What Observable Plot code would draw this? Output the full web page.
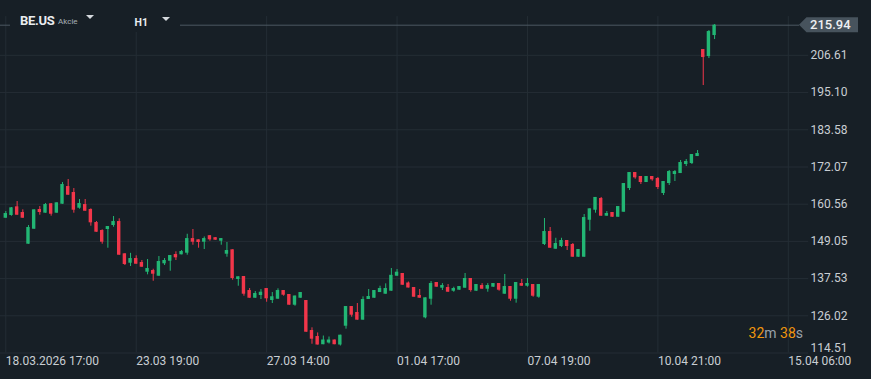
<!DOCTYPE html>
<html><head><meta charset="utf-8">
<script src="https://cdn.jsdelivr.net/npm/d3@7"></script>
<script src="https://cdn.jsdelivr.net/npm/@observablehq/plot@0.6"></script>
<style>
html,body{margin:0;padding:0;background:#171f26;overflow:hidden}
#wrap{position:relative;width:871px;height:379px;font-family:Roboto,sans-serif}
#hdr{position:absolute;left:10px;top:6px;width:170px;height:26px;background:#171f26}
.sym{position:absolute;left:10px;top:7px;font-weight:700;font-size:13px;color:#e9ecef;letter-spacing:-0.3px}
.typ{position:absolute;left:48px;top:11px;font-size:8px;color:#a7afb6}
.iv{position:absolute;left:124.5px;top:10px;font-weight:700;font-size:10.5px;color:#e9ecef}
.tri{position:absolute;width:0;height:0;border-left:4px solid transparent;border-right:4px solid transparent;border-top:4.5px solid #d5d9dd}
#cd{position:absolute;right:68px;top:325px;font-size:14px;color:#9aa2aa}
#cd .o{color:#f0960e}
</style></head><body><div id="wrap"></div>
<script>
const symbol = "BE.US", assetType = "Akcie", interval = "H1";
const opens = [156.21,157.05,159.74,157.98,148.17,152.81,158.91,157.77,160.67,157.77,160.55,166.02,164.17,159.31,160.45,158.91,154.88,152.41,152.72,153.96,155.19,145.20,142.29,143.74,142.51,139.51,140.03,138.27,142.11,142.91,144.98,144.89,145.39,149.92,149.53,148.79,150.81,150.19,149.10,145.08,146.44,137.25,138.18,133.84,131.46,132.30,134.46,130.75,131.15,133.84,132.61,129.30,131.46,130.75,121.47,119.61,117.07,117.60,118.53,116.98,122.80,128.89,127.04,124.67,131.06,131.46,133.22,132.70,133.63,138.27,139.11,136.17,134.77,132.30,125.39,131.15,136.32,134.56,134.77,133.63,133.94,134.56,137.56,133.63,135.39,134.25,134.87,136.01,132.70,135.08,131.15,136.01,135.17,135.70,131.77,148.08,152.10,146.62,147.46,149.32,148.08,144.15,144.15,155.59,158.69,162.31,156.84,157.98,156.52,158.07,165.40,170.35,169.12,167.26,169.12,168.50,163.86,166.95,169.73,170.04,172.83,173.14,175.30,208.41,206.24,212.74];
const highs = [158.29,159.52,161.38,158.81,153.96,158.81,159.83,160.76,160.76,160.98,167.26,168.19,165.40,162.00,162.00,159.12,155.19,152.62,153.65,156.74,156.03,145.20,145.35,144.58,143.13,143.44,140.43,144.36,143.74,144.67,145.82,146.22,151.25,152.72,149.53,150.42,150.81,150.19,149.92,148.70,146.44,138.09,138.18,134.46,133.53,134.15,134.46,133.22,134.37,133.84,132.61,132.14,133.22,130.75,122.30,120.72,119.76,119.46,118.53,120.02,128.89,128.89,129.82,131.89,134.15,133.84,135.17,135.91,140.65,140.34,139.11,136.48,134.77,134.15,131.58,136.63,136.32,135.98,135.70,134.87,135.08,139.11,137.56,135.70,135.98,135.98,136.01,136.01,138.80,135.08,136.32,137.25,137.56,135.70,135.70,156.12,153.34,150.01,150.01,149.32,148.39,146.53,157.36,159.12,162.64,162.64,158.29,157.98,159.83,166.95,170.35,170.35,169.12,169.12,169.12,168.81,167.57,170.97,170.97,174.07,174.38,175.92,177.16,208.41,214.29,216.14];
const lows = [156.21,156.84,157.14,156.21,148.17,152.81,157.14,157.77,156.84,157.77,160.55,163.33,157.77,159.00,158.38,153.75,151.88,148.17,146.93,153.43,144.77,141.58,141.27,141.98,141.05,138.70,136.72,138.27,141.58,139.82,143.13,144.89,144.77,147.86,146.93,146.53,149.10,149.41,147.86,144.15,137.04,135.17,132.08,131.46,131.46,131.06,130.22,129.82,131.15,132.08,129.30,128.99,131.46,120.94,117.22,116.98,117.07,117.29,117.07,116.67,121.88,125.58,124.67,124.67,131.06,131.46,133.22,132.70,133.63,138.27,135.48,134.62,131.77,131.46,125.08,129.30,134.87,133.84,133.32,133.32,133.94,134.56,133.32,133.63,134.25,133.32,134.87,133.63,132.70,130.53,129.92,135.17,134.87,131.77,131.46,147.77,146.93,146.62,147.15,146.22,144.15,144.15,144.15,152.19,157.77,156.84,156.84,156.52,156.52,158.07,164.78,168.28,166.64,167.26,167.66,165.09,163.24,166.33,167.57,170.04,172.21,172.83,175.30,197.27,205.62,211.50];
const closes = [157.67,159.43,157.14,156.21,153.34,158.81,157.98,160.45,157.45,160.98,166.64,163.33,158.69,160.76,158.38,154.79,151.88,148.79,153.65,155.19,144.77,141.89,143.74,141.98,141.05,140.65,138.89,142.82,143.13,144.67,143.96,145.91,149.92,148.79,148.70,149.92,149.53,149.41,149.92,146.22,137.56,138.09,132.70,131.46,132.92,133.32,131.28,131.91,133.84,132.39,129.30,132.14,133.22,120.94,118.78,116.98,118.53,118.53,117.07,120.02,128.89,126.20,124.67,131.06,131.99,133.84,134.46,134.46,138.55,139.51,135.48,134.62,131.77,131.46,131.58,136.01,134.87,135.39,133.32,134.46,135.08,137.56,133.84,135.70,134.25,135.39,136.01,133.94,135.08,131.15,136.32,135.17,136.01,132.08,135.70,152.10,146.93,148.39,149.32,147.46,144.15,146.53,156.43,159.12,162.64,156.84,157.67,156.52,159.83,166.95,170.35,168.71,167.26,169.12,168.10,165.71,167.57,170.66,170.66,173.45,173.76,175.92,176.23,205.93,213.98,215.94];
const xTickIdx = [0, 23, 46, 69, 92, 115, 138];
const xTickLabels = ["18.03.2026 17:00", "23.03 19:00", "27.03 14:00", "01.04 17:00", "07.04 19:00", "10.04 21:00", "15.04 06:00"];
const yTicks = [114.51, 126.02, 137.53, 149.05, 160.56, 172.07, 183.58, 195.10, 206.61];
const lastPrice = 215.94;
const countdownMin = "32", countdownSec = "38";

const GREEN = "#22b674", RED = "#f2364a", GRID = "#242d35", TXT = "#c9ced3";
const candles = opens.map((o, i) => ({i, open: o, high: highs[i], low: lows[i], close: closes[i]}));
const col = d => d.close >= d.open ? GREEN : RED;

const chart = Plot.plot({
  width: 871, height: 379,
  marginLeft: 0, marginRight: 65, marginTop: 0, marginBottom: 26,
  style: {background: "transparent", color: TXT, fontFamily: "Roboto, sans-serif", fontSize: "12px"},
  x: {domain: [0, 138], range: [5.3, 787.8]},
  y: {domain: [114.51, 215.94], range: [352.5, 24.7]},
  color: {type: "identity"},
  marks: [
    Plot.ruleY(yTicks, {x1: -1, x2: 141.6, stroke: GRID}),
    Plot.ruleX(xTickIdx, {y1: 114.51, y2: 218.6, stroke: GRID}),
    Plot.ruleY([lastPrice], {x1: -1, x2: 140, stroke: "#4c5761"}),
    Plot.ruleX(candles, {x: "i", y1: "low", y2: "high", stroke: col, strokeWidth: 1}),
    Plot.rect(candles, {x1: d => d.i - 0.3, x2: d => d.i + 0.3, y1: "open", y2: "close", fill: col}),
    Plot.axisX({ticks: xTickIdx, tickFormat: d => xTickLabels[xTickIdx.indexOf(d)], tickSize: 0, tickPadding: 3, textAnchor: "start", fill: TXT, label: null}),
    Plot.axisY(yTicks.slice(1), {anchor: "right", tickSize: 0, tickPadding: 4, textAnchor: "start", tickFormat: d => d.toFixed(2), fill: TXT, label: null}),
    Plot.axisY(yTicks.slice(0, 1), {anchor: "right", tickSize: 0, tickPadding: 4, textAnchor: "start", tickFormat: d => d.toFixed(2), fill: TXT, dy: -5, label: null})
  ]
});

// price tag on the right axis (position from the y scale)
const yp = chart.scale("y").apply(lastPrice);
const tag = d3.select(chart).append("g").attr("text-anchor", "start");
tag.append("path")
  .attr("d", `M799,${yp}L806.5,${yp - 7.5}H858V${yp + 7.5}H806.5Z`)
  .style("fill", "#47535d").style("stroke", "none");
tag.append("text").attr("x", 810).attr("y", yp).attr("dy", "0.35em")
  .style("fill", "#eef0f2").style("font-size", "13px").style("font-weight", "500")
  .style("font-family", "Roboto, sans-serif").text(lastPrice.toFixed(2));

const wrap = document.getElementById("wrap");
wrap.appendChild(chart);

const hdr = document.createElement("div");
hdr.id = "hdr";
hdr.innerHTML = `<span class="sym">${symbol}</span><span class="typ">${assetType}</span>
<span class="tri" style="left:76px;top:9px"></span>
<span class="iv">${interval}</span>
<span class="tri" style="left:152px;top:11px"></span>`;
wrap.appendChild(hdr);

const cd = document.createElement("div");
cd.id = "cd";
cd.innerHTML = `<span class="o">${countdownMin}</span>m <span class="o">${countdownSec}</span>s`;
wrap.appendChild(cd);
</script>
</body></html>
